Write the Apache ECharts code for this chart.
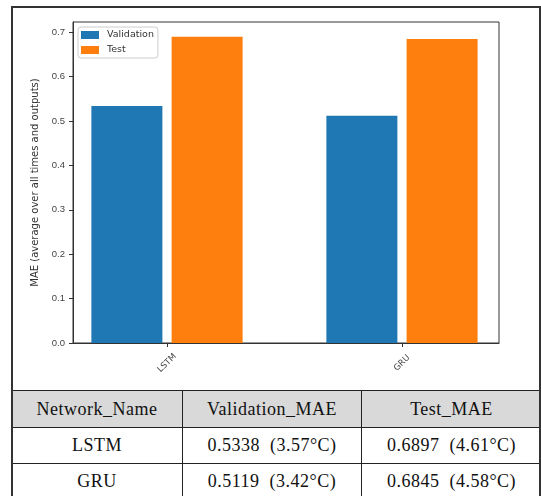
<!DOCTYPE html>
<html><head><meta charset="utf-8">
<script src="https://cdn.jsdelivr.net/npm/echarts@6/dist/echarts.min.js"></script>
<style>
html,body{margin:0;padding:0;background:#fff;}
#wrap{position:relative;width:541px;height:496px;overflow:hidden;background:#fff;}
#chart{position:absolute;left:0;top:0;width:541px;height:496px;}
#frame{position:absolute;left:11px;top:6px;width:530px;height:520px;border:2px solid #333;box-sizing:border-box;pointer-events:none;}
#tbl{position:absolute;left:11px;top:390px;width:530px;border-collapse:collapse;table-layout:fixed;font-family:"Liberation Serif","Times New Roman",serif;font-size:18px;letter-spacing:0.5px;color:#111;background:#fff;}
#tbl td{border:1px solid #222;text-align:center;padding:0;white-space:pre;overflow:hidden;}
#tbl tr.h td{background:#d9d9d9;height:36px;}
#tbl tr.r td{height:35px;}
</style>
</head><body>
<div id="wrap">
  <div id="chart"></div>
  <table id="tbl"><colgroup><col style="width:171px"><col style="width:179px"><col style="width:180px"></colgroup><tbody id="tb"></tbody></table>
  <div id="frame"></div>
</div>
<script>
const categories = ['LSTM', 'GRU'];
const validationMAE = [0.5338, 0.5119];
const testMAE = [0.6897, 0.6845];
const validationCelsius = ['3.57°C', '3.42°C'];
const testCelsius = ['4.61°C', '4.58°C'];
const yTicks = [0, 0.1, 0.2, 0.3, 0.4, 0.5, 0.6, 0.7];
const tableHeader = ['Network_Name', 'Validation_MAE', 'Test_MAE'];
const seriesNames = ['Validation', 'Test'];

// table
const tb = document.getElementById('tb');
let html = '<tr class="h">' + tableHeader.map(h => '<td>' + h + '</td>').join('') + '</tr>';
categories.forEach((c, i) => {
  html += '<tr class="r"><td>' + c + '</td><td>' + validationMAE[i].toFixed(4) + '  (' + validationCelsius[i] + ')</td><td>' +
    testMAE[i].toFixed(4) + '  (' + testCelsius[i] + ')</td></tr>';
});
tb.innerHTML = html;

const chart = echarts.init(document.getElementById('chart'), null, {renderer: 'canvas'});
const axisColor = '#333';
chart.setOption({
  animation: false,
  grid: {left: 73, top: 22, width: 426, height: 321, show: true, borderColor: axisColor, borderWidth: 1, backgroundColor: 'transparent'},
  legend: {
    left: 78, top: 27, orient: 'vertical', itemWidth: 18, itemHeight: 8, itemGap: 5,
    padding: [3, 4, 3, 3], borderColor: '#ccc', borderWidth: 1, borderRadius: 3, icon: 'rect',
    textStyle: {fontFamily: 'DejaVu Sans', fontSize: 9.5, color: '#333', padding: [0, 0, 0, 3]},
    data: seriesNames
  },
  xAxis: {
    type: 'value', min: -0.4, max: 1.4128,
    axisLine: {show: true, onZero: false, lineStyle: {color: axisColor, width: 1}},
    splitLine: {show: false},
    axisTick: {show: true, customValues: [0, 1], length: 4, lineStyle: {color: axisColor}},
    axisLabel: {
      customValues: [0, 1], formatter: v => categories[Math.round(v)] || '',
      rotate: 45, align: 'center', verticalAlign: 'middle', margin: 20,
      fontFamily: 'DejaVu Sans', fontSize: 8.5, color: '#444'
    }
  },
  yAxis: {
    type: 'value', min: 0, max: 0.7229,
    name: 'MAE (average over all times and outputs)', nameLocation: 'middle', nameGap: 30,
    nameTextStyle: {fontFamily: 'DejaVu Sans', fontSize: 10, color: '#333'},
    axisLine: {show: true, onZero: false, lineStyle: {color: axisColor, width: 1}},
    splitLine: {show: false},
    axisTick: {show: true, customValues: yTicks, length: 4, lineStyle: {color: axisColor}},
    axisLabel: {customValues: yTicks, formatter: v => v.toFixed(1), margin: 8,
      fontFamily: 'Liberation Sans', fontSize: 9.5, color: '#444'}
  },
  series: [
    {name: seriesNames[0], type: 'bar', data: categories.map((c, i) => [i, validationMAE[i]]),
      barWidth: 71, barGap: '13%', itemStyle: {color: '#1f77b4'}},
    {name: seriesNames[1], type: 'bar', data: categories.map((c, i) => [i, testMAE[i]]),
      barWidth: 71, barGap: '13%', itemStyle: {color: '#ff7f0e'}}
  ]
});
</script>
</body></html>
